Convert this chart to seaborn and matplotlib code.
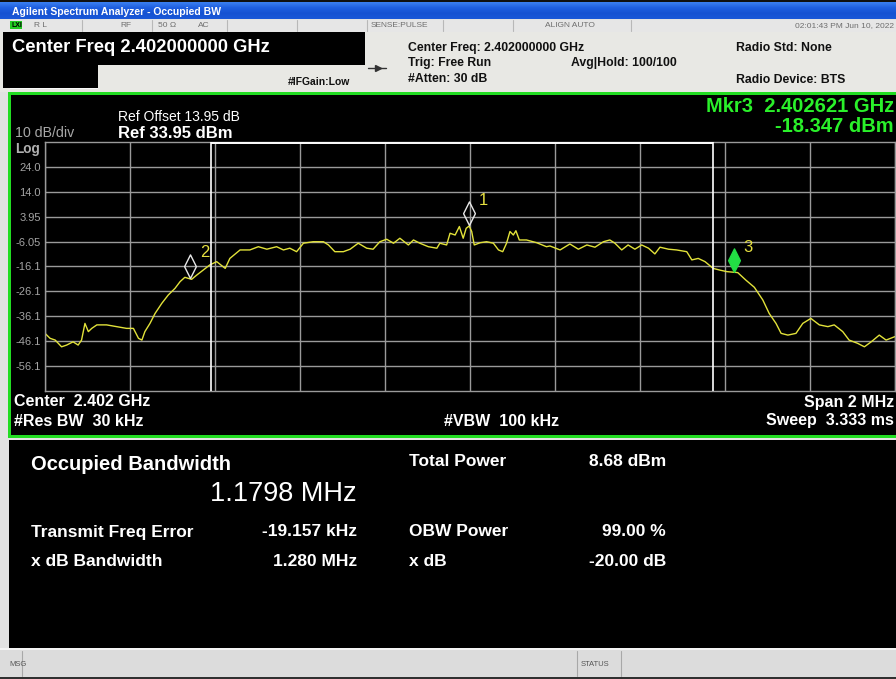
import numpy as np
import pandas as pd
import matplotlib
matplotlib.use("Agg")
import matplotlib.pyplot as plt
import seaborn as sns
from matplotlib.patches import Rectangle
from matplotlib.path import Path

# ---------------- data ----------------
freq_offset_mhz = [
    -1.000, -0.988, -0.976, -0.961, -0.949, -0.934, -0.922, -0.914, -0.906, -0.898,
    -0.890, -0.878, -0.855, -0.831, -0.808, -0.792, -0.780, -0.772, -0.765, -0.753,
    -0.741, -0.725, -0.710, -0.694, -0.682, -0.671, -0.655, -0.643, -0.628, -0.612,
    -0.596, -0.576, -0.565, -0.541, -0.518, -0.498, -0.478, -0.455, -0.439, -0.424,
    -0.408, -0.392, -0.369, -0.345, -0.333, -0.318, -0.298, -0.282, -0.263, -0.243,
    -0.228, -0.212, -0.196, -0.180, -0.165, -0.145, -0.133, -0.118, -0.098, -0.078,
    -0.071, -0.055, -0.047, -0.035, -0.025, -0.016, -0.009, -0.002, 0.004, 0.010,
    0.024, 0.039, 0.055, 0.067, 0.077, 0.086, 0.094, 0.102, 0.108, 0.116,
    0.133, 0.157, 0.180, 0.188, 0.212, 0.235, 0.255, 0.275, 0.294, 0.314,
    0.329, 0.341, 0.357, 0.372, 0.388, 0.404, 0.420, 0.435, 0.447, 0.467,
    0.486, 0.510, 0.522, 0.537, 0.553, 0.572, 0.588, 0.604, 0.630, 0.649,
    0.669, 0.689, 0.704, 0.720, 0.732, 0.748, 0.767, 0.783, 0.802, 0.822,
    0.842, 0.857, 0.877, 0.892, 0.912, 0.928, 0.944, 0.963, 0.979, 1.000,
]
level_dbm = [
    -42.9, -44.9, -45.6, -48.3, -47.6, -46.3, -47.6, -45.6, -38.9, -42.2,
    -40.9, -39.5, -39.5, -40.2, -40.9, -40.9, -44.9, -45.6, -42.2, -38.9,
    -34.9, -30.8, -27.5, -24.8, -22.1, -20.4, -21.2, -19.5, -17.5, -15.4,
    -14.1, -16.8, -12.8, -9.4, -9.4, -8.1, -9.1, -8.1, -9.4, -8.7,
    -10.1, -6.7, -6.1, -6.1, -7.4, -10.1, -10.1, -9.1, -6.7, -8.7,
    -9.1, -6.1, -5.1, -6.7, -4.7, -7.4, -5.4, -6.7, -8.1, -8.7,
    -6.7, -7.4, -2.7, -3.4, 0.0, -4.7, -0.7, 0.2, -2.0, -7.4,
    -6.5, -6.1, -6.7, -9.4, -10.1, -6.7, -2.0, -3.4, -1.7, -5.4,
    -5.4, -6.5, -8.1, -7.8, -9.4, -7.0, -9.1, -7.4, -8.3, -6.1,
    -5.4, -6.7, -9.4, -7.4, -9.1, -7.4, -8.7, -11.0, -8.3, -9.1,
    -9.4, -10.1, -13.4, -12.8, -14.1, -16.8, -17.5, -18.1, -18.5, -21.5,
    -24.4, -29.5, -34.9, -38.9, -42.9, -43.6, -42.9, -38.9, -36.9, -39.5,
    -40.2, -39.5, -42.2, -45.6, -46.9, -48.3, -46.3, -43.6, -45.6, -44.2,
]
ref_level_dbm = 33.95
db_per_div = 10
ytick_labels = ["24.0", "14.0", "3.95", "-6.05", "-16.1", "-26.1", "-36.1", "-46.1", "-56.1"]
marker_ids = ["1", "2", "3"]
marker_freq_mhz = [-0.002, -0.659, 0.621]
marker_level_dbm = [0.6, -20.6, -18.347]
obw_center_offset_mhz = -0.019157
obw_mhz = 1.1798

# ---------------- figure ----------------
sns.set_theme(style="dark")
plt.rcParams["font.family"] = ["Liberation Sans", "DejaVu Sans"]

W, H = 896, 679
fig = plt.figure(figsize=(W / 100, H / 100), dpi=100)
fig.patch.set_facecolor("#e2e2e2")

bg = fig.add_axes([0, 0, 1, 1], zorder=0)
bg.set_xlim(0, W)
bg.set_ylim(H, 0)
bg.axis("off")


def rect(x, y, w, h, c, **kw):
    bg.add_patch(Rectangle((x, y), w, h, facecolor=c, edgecolor="none", lw=0, **kw))


def txt(x, y, s, **kw):
    kw.setdefault("va", "center")
    bg.text(x, y, s, **kw)


# title bar with gradient
rect(0, 0, W, 3, "#101010")
grad = np.linspace(0, 1, 32).reshape(-1, 1)
cmap = matplotlib.colors.LinearSegmentedColormap.from_list(
    "xp", ["#3a7ff0", "#1f5fe0", "#1552d2", "#1a58d8"])
bg.imshow(grad, extent=(0, W, 19.5, 3), cmap=cmap, aspect="auto", zorder=1)
txt(12, 12, "Agilent Spectrum Analyzer - Occupied BW", color="white",
    fontsize=7.5, fontweight="bold", zorder=3)

# status row
rect(0, 19.5, W, 12, "#e6e6e6")
for xs in [82, 152, 227, 297, 367, 443, 513, 631]:
    bg.plot([xs, xs], [20, 31], color="#b8b8b8", lw=0.8)
rect(10, 21, 12, 8, "#22cc22", zorder=2)
txt(11, 25.5, "LXI", fontsize=5, color="#000000", fontweight="bold", zorder=3)
st = dict(fontsize=6, color="#6e6e6e", zorder=3)
txt(34, 25.5, "R L", **st)
txt(120, 25.5, "RF", **st)
txt(158, 25.5, "50 Ω", **st)
txt(198, 25.5, "AC", **st)
txt(371, 25.5, "SENSE:PULSE", **st)
txt(545, 25.5, "ALIGN AUTO", **st)
txt(894, 25.5, "02:01:43 PM Jun 10, 2022", ha="right", **st)

# settings panel
rect(0, 31.5, W, 60, "#e8e8e4")
rect(3, 31.5, 362, 33, "#000000")
rect(3, 64, 95, 24, "#000000")
rect(10, 88, 88, 1.2, "#f8f8f8")
txt(12, 48, "Center Freq 2.402000000 GHz", color="white", fontsize=13.2,
    fontweight="bold", zorder=3)
txt(288, 82, "#IFGain:Low", fontsize=7.5, color="#111111", fontweight="bold")
bg.plot([368, 386], [68, 68], color="#333333", lw=1)
bg.plot([378], [68], marker=">", ms=4, color="#333333")
hd = dict(fontsize=8.8, color="#111111", fontweight="bold")
txt(408, 48, "Center Freq: 2.402000000 GHz", **hd)
txt(408, 63, "Trig: Free Run", **hd)
txt(408, 79, "#Atten: 30 dB", **hd)
txt(571, 63, "Avg|Hold: 100/100", **hd)
txt(736, 48, "Radio Std: None", **hd)
txt(736, 80, "Radio Device: BTS", **hd)

# green bordered trace panel
rect(8, 91.5, W, 346, "#22dd22")
rect(11, 94.5, W, 340, "#000000")
txt(118, 117, "Ref Offset 13.95 dB", color="white", fontsize=10)
txt(118, 133, "Ref 33.95 dBm", color="white", fontsize=12, fontweight="bold")
txt(15, 133, "10 dB/div", color="#a8a8a8", fontsize=10.2)
txt(15, 148.5, "Log", color="#b0b0b0", fontsize=9.8, fontweight="bold")
txt(894, 106, "Mkr3  2.402621 GHz", color="#2af02a", fontsize=14.5,
    fontweight="bold", ha="right")
txt(894, 127, "-18.347 dBm", color="#2af02a", fontsize=14.5, fontweight="bold",
    ha="right")
bt = dict(color="white", fontsize=11.5, fontweight="bold")
txt(14, 402, "Center  2.402 GHz", **bt)
txt(14, 421, "#Res BW  30 kHz", **bt)
txt(444, 421, "#VBW  100 kHz", **bt)
txt(894, 402, "Span 2 MHz", ha="right", **bt)
txt(894, 421, "Sweep  3.333 ms", ha="right", **bt)

# result panel
rect(9, 440, W, 208, "#000000")
txt(31, 464, "Occupied Bandwidth", color="white", fontsize=14.5, fontweight="bold")
txt(357, 494, "1.1798 MHz", color="white", fontsize=19.5, ha="right")
rs = dict(color="white", fontsize=12.5, fontweight="bold")
txt(409, 462, "Total Power", **rs)
txt(666, 462, "8.68 dBm", ha="right", **rs)
txt(31, 532, "Transmit Freq Error", **rs)
txt(357, 532, "-19.157 kHz", ha="right", **rs)
txt(409, 532, "OBW Power", **rs)
txt(666, 532, "99.00 %", ha="right", **rs)
txt(31, 562, "x dB Bandwidth", **rs)
txt(357, 562, "1.280 MHz", ha="right", **rs)
txt(409, 562, "x dB", **rs)
txt(666, 562, "-20.00 dB", ha="right", **rs)

# bottom status bar
rect(0, 648, W, 2, "#f4f4f4")
rect(0, 650, W, 27, "#dcdcdc")
rect(0, 677, W, 2, "#303030")
for xs in [22, 577, 621]:
    bg.plot([xs, xs], [651, 676], color="#a8a8a8", lw=0.8)
txt(9, 664, "MSG", fontsize=5.5, color="#555555")
txt(581, 664, "STATUS", fontsize=5.5, color="#555555")

# ---------------- spectrum axes ----------------
ax = fig.add_axes([45 / W, 1 - 391 / H, 850 / W, 249 / H], zorder=2)
ax.set_facecolor("black")
df = pd.DataFrame({"freq": freq_offset_mhz, "level": level_dbm})
sns.lineplot(data=df, x="freq", y="level", ax=ax, color="#e2e23a", lw=1.0)

bottom = ref_level_dbm - 10 * db_per_div
ax.set_xlim(-1, 1)
ax.set_ylim(bottom, ref_level_dbm)
ax.set_xticks(np.linspace(-1, 1, 11))
ax.set_xticklabels([])
yt = [ref_level_dbm - db_per_div * (i + 1) for i in range(len(ytick_labels))]
ax.set_yticks(yt)
ax.set_yticklabels(ytick_labels)
ax.tick_params(axis="y", length=0, pad=3, labelsize=8, labelcolor="#a4a4a4")
ax.tick_params(axis="x", length=0)
ax.grid(True, color="#9a9a9a", lw=1.0)
ax.set_xlabel("")
ax.set_ylabel("")
for s in ax.spines.values():
    s.set_color("#9a9a9a")
    s.set_linewidth(1.0)

# OBW bracket
obw_lo = obw_center_offset_mhz - obw_mhz / 2
obw_hi = obw_center_offset_mhz + obw_mhz / 2
for xv in (obw_lo, obw_hi):
    ax.axvline(xv, color="white", lw=1.2, zorder=3)
ax.hlines(ref_level_dbm - 0.3, obw_lo, obw_hi, color="white", lw=1.4, zorder=3,
          clip_on=False)

# markers (tip at the trace point)
diamond = Path([(0, 0), (1, 2), (0, 4), (-1, 2), (0, 0)],
               [Path.MOVETO, Path.LINETO, Path.LINETO, Path.LINETO, Path.CLOSEPOLY])
for mid, mf, ml in zip(marker_ids, marker_freq_mhz, marker_level_dbm):
    active = mid == "3"
    ax.plot([mf], [ml], marker=diamond, ms=34, linestyle="none",
            markerfacecolor="#22dd44" if active else "none",
            markeredgecolor="#22dd44" if active else "#e8e8e8",
            markeredgewidth=1.0, zorder=5)
    ax.annotate(mid, (mf, ml), xytext=(7, 18), textcoords="offset points",
                color="#e6e040", fontsize=12, va="center", ha="left", zorder=6)

fig.savefig("out.png", dpi=100, facecolor=fig.get_facecolor())
